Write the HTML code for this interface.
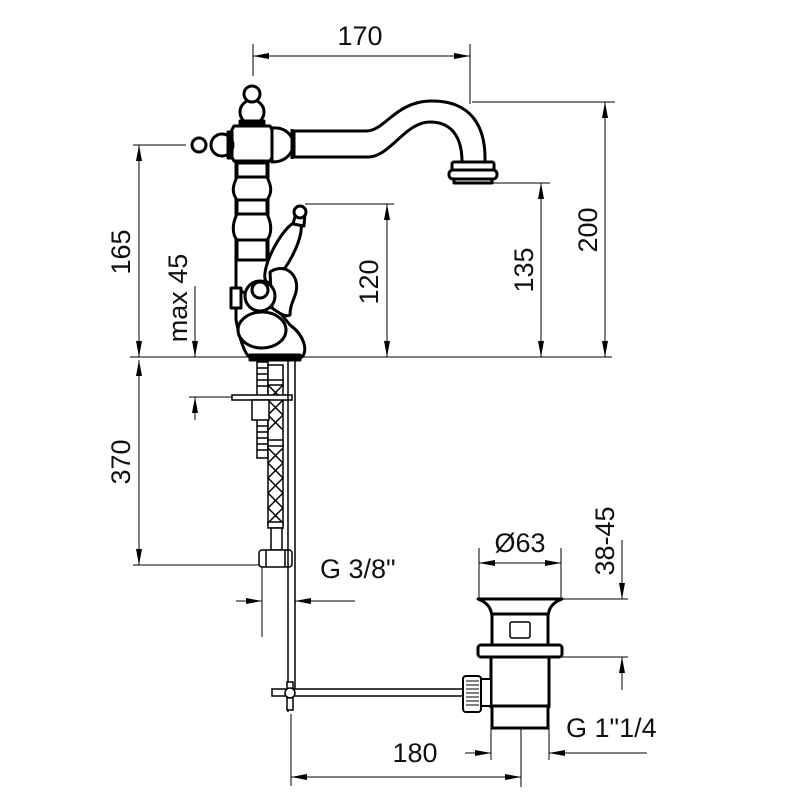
<!DOCTYPE html>
<html><head><meta charset="utf-8"><style>
html,body{margin:0;padding:0;background:#fff}
svg{display:block}
text{font-family:"Liberation Sans",sans-serif;font-size:27px;fill:#111}
</style></head><body>
<svg width="800" height="800" viewBox="0 0 800 800" xmlns="http://www.w3.org/2000/svg">
<defs>
<marker id="a" viewBox="0 0 16 6" refX="16" refY="3" markerWidth="16" markerHeight="6" markerUnits="userSpaceOnUse" orient="auto-start-reverse">
<path d="M0,0 L16,3 L0,6 z" fill="#000"/></marker>
</defs>
<g stroke="#000" stroke-width="1" fill="none">
<line x1="253" y1="44" x2="253" y2="76"/><line x1="470" y1="44" x2="470" y2="104"/>
<line x1="253" y1="56" x2="470" y2="56" marker-start="url(#a)" marker-end="url(#a)"/>
<line x1="130" y1="357" x2="612" y2="357"/>
<line x1="472" y1="102" x2="615" y2="102"/>
<line x1="605" y1="102" x2="605" y2="357" marker-start="url(#a)" marker-end="url(#a)"/>
<line x1="490" y1="183" x2="550" y2="183"/>
<line x1="541" y1="183" x2="541" y2="357" marker-start="url(#a)" marker-end="url(#a)"/>
<line x1="305" y1="204" x2="394" y2="204"/>
<line x1="387" y1="204" x2="387" y2="357" marker-start="url(#a)" marker-end="url(#a)"/>
<line x1="133" y1="145" x2="186" y2="145"/>
<line x1="139" y1="145" x2="139" y2="357" marker-start="url(#a)" marker-end="url(#a)"/>
<line x1="139" y1="360" x2="139" y2="565" marker-start="url(#a)" marker-end="url(#a)"/>
<line x1="133" y1="565" x2="265" y2="565"/>
<line x1="195" y1="286" x2="195" y2="357" marker-end="url(#a)"/>
<line x1="195" y1="420" x2="195" y2="397" marker-end="url(#a)"/>
<line x1="189" y1="397" x2="240" y2="397"/>
<line x1="262" y1="565" x2="262" y2="637"/>
<line x1="236" y1="601" x2="262" y2="601" marker-end="url(#a)"/>
<line x1="355" y1="601" x2="295" y2="601" marker-end="url(#a)"/>
<line x1="479" y1="548" x2="479" y2="599"/><line x1="561" y1="548" x2="561" y2="599"/>
<line x1="479" y1="563" x2="561" y2="563" marker-start="url(#a)" marker-end="url(#a)"/>
<line x1="562" y1="599" x2="628" y2="599"/><line x1="562" y1="657" x2="628" y2="657"/>
<line x1="622" y1="540" x2="622" y2="599" marker-end="url(#a)"/>
<line x1="622" y1="690" x2="622" y2="657" marker-end="url(#a)"/>
<line x1="465" y1="753" x2="491" y2="753" marker-end="url(#a)"/>
<line x1="647" y1="753" x2="549" y2="753" marker-end="url(#a)"/>
<line x1="491" y1="700" x2="491" y2="760"/><line x1="549" y1="700" x2="549" y2="760"/>
<line x1="521" y1="700" x2="521" y2="787"/>
<line x1="291" y1="714" x2="291" y2="786"/>
<line x1="291" y1="777" x2="521" y2="777" marker-start="url(#a)" marker-end="url(#a)"/>
</g>

<g stroke="#000" stroke-width="3" fill="#fff" stroke-linejoin="round">
<path d="M294,131 L366,131 C385,131 395,102 430,101 C470,100 486,125 485,162 L462,162 C462,135 450,122 430,122 C405,122 390,157 368,157 L294,157 Z"/>
<rect x="452" y="162" width="42" height="9" rx="2"/>
<rect x="449" y="170" width="48" height="9" rx="4"/>
<rect x="454" y="179" width="38" height="4"/>
<path d="M236,160 L268,160 L268,300 L236,300 Z"/>
<rect x="237" y="163" width="30" height="14"/>
<path d="M237,177 C232,187 232,193 237,200 L267,200 C272,193 272,187 267,177 Z"/>
<rect x="237" y="200" width="30" height="14"/>
<path d="M237,214 C232,224 232,234 237,240 L267,240 C272,234 272,224 267,214 Z"/>
<rect x="237" y="240" width="30" height="20"/>
<path d="M234,126 L270,126 C276,135 276,152 270,161 L234,161 C228,152 228,135 234,126 Z"/>
<path d="M272,128 C300,126 300,162 272,162 Z"/>
<line x1="292" y1="129" x2="292" y2="159"/>
<circle cx="252" cy="112" r="12"/>
<circle cx="252" cy="94" r="8"/>
<rect x="240" y="121" width="24" height="5" fill="#000"/>
<circle cx="222" cy="145" r="11"/>
<circle cx="199" cy="145" r="7"/>
<rect x="228" y="132" width="4" height="26" fill="#000"/>
<!-- lower body -->
<path d="M236,290 L236,320 C240,340 245,355 250,357 L302,357 C308,350 304,335 290,325 L270,300 Z"/>
<ellipse cx="262" cy="330" rx="24" ry="18"/>
<!-- lever -->
<ellipse cx="283" cy="252" rx="10" ry="34" transform="rotate(28 283 252)"/>
<path d="M293,224 L296,213 L305,213 L304,226 Z"/>
<circle cx="300" cy="212" r="6"/>
<path d="M270,272 C285,262 300,275 296,292 C294,300 290,305 290,315 C285,318 278,312 272,308 Z"/>
<rect x="231" y="288" width="10" height="20"/>
<circle cx="260" cy="296" r="15"/>
<circle cx="260" cy="290" r="8"/>
<rect x="250" y="355" width="50" height="5" fill="#000"/>
</g>

<g stroke="#000" stroke-width="1.5" fill="#fff">
<rect x="257" y="362" width="11" height="96"/>
<path d="M257,368 H268 M257,374 H268 M257,380 H268 M257,386 H268 M257,426 H268 M257,432 H268 M257,438 H268 M257,444 H268 M257,450 H268" />
<rect x="268" y="365" width="15" height="160"/>
<path d="M268,385 L283,400 M283,385 L268,400 M268,400 L283,415 M283,400 L268,415 M268,415 L283,430 M283,415 L268,430 M268,448 L283,463 M283,448 L268,463 M268,463 L283,478 M283,463 L268,478 M268,478 L283,493 M283,478 L268,493 M268,493 L283,508 M283,493 L268,508 M268,508 L283,523 M283,508 L268,523"/>
<rect x="268" y="380" width="15" height="5"/><rect x="268" y="440" width="15" height="6"/>
<rect x="268" y="522" width="15" height="6"/>
<rect x="271" y="528" width="11" height="22"/>
<rect x="232" y="395" width="60" height="5"/>
<rect x="252" y="400" width="17" height="20"/>
<rect x="259" y="550" width="33" height="17" rx="3"/>
<line x1="266" y1="550" x2="266" y2="567"/><line x1="285" y1="550" x2="285" y2="567"/>
<line x1="288" y1="360" x2="288" y2="712"/>
<line x1="295" y1="360" x2="295" y2="690"/>
<rect x="272" y="689" width="192" height="7"/>
<rect x="287" y="682" width="6" height="28"/>
<circle cx="290" cy="693" r="5"/>
</g>

<g stroke="#000" stroke-width="3" fill="#fff" stroke-linejoin="round">
<path d="M478,599 L562,599 C552,603 549,608 548,616 L548,645 L492,645 L492,616 C491,608 488,603 478,599 Z"/>
<line x1="492" y1="614" x2="548" y2="614"/>
<rect x="510" y="622" width="20" height="16" rx="2" stroke-width="1.5"/>
<rect x="478" y="645" width="84" height="12" rx="3"/>
<rect x="491" y="657" width="58" height="50"/>
<rect x="492" y="706" width="56" height="22"/>
<rect x="481" y="679" width="10" height="27" stroke-width="2"/>
<rect x="463" y="676" width="18" height="36" rx="3" stroke-width="2"/>
<path d="M466,681 H479 M466,685 H479 M466,689 H479 M466,693 H479 M466,697 H479 M466,701 H479 M466,705 H479" stroke-width="1"/>
</g>
<line x1="548" y1="657" x2="548" y2="706" stroke="#000" stroke-width="1"/>

<text x="360" y="45" text-anchor="middle">170</text>
<text x="415" y="762" text-anchor="middle">180</text>
<text x="320" y="578">G 3/8"</text>
<text x="566" y="737">G 1"1/4</text>
<text x="520" y="552" text-anchor="middle">Ø63</text>
<text transform="translate(597,230) rotate(-90)" text-anchor="middle">200</text>
<text transform="translate(533,270) rotate(-90)" text-anchor="middle">135</text>
<text transform="translate(378,282) rotate(-90)" text-anchor="middle">120</text>
<text transform="translate(130,252) rotate(-90)" text-anchor="middle">165</text>
<text transform="translate(187,298) rotate(-90)" text-anchor="middle">max 45</text>
<text transform="translate(130,462) rotate(-90)" text-anchor="middle">370</text>
<text transform="translate(614,541) rotate(-90)" text-anchor="middle">38-45</text>
</svg>
</body></html>
